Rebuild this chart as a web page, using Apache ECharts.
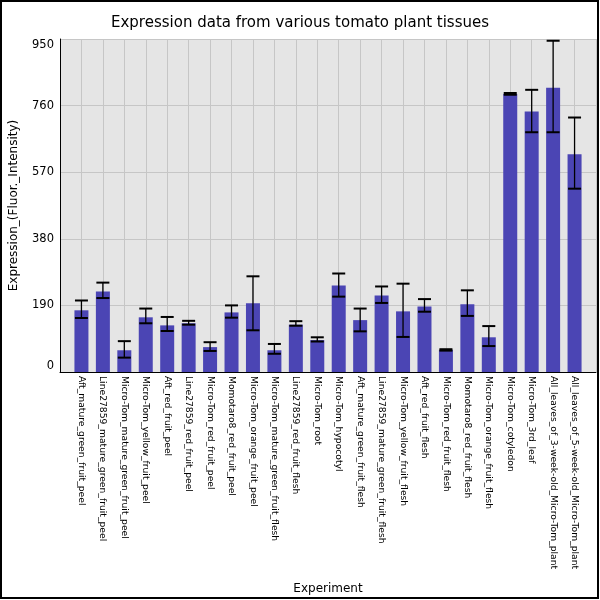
<!DOCTYPE html>
<html>
<head>
<meta charset="utf-8">
<script src="https://cdn.jsdelivr.net/npm/echarts@6/dist/echarts.min.js"></script>
<style>
html,body{margin:0;padding:0;background:#fff;}
#main{width:600px;height:600px;}
</style>
</head>
<body>
<div id="main"></div>
<script>
// tissue names, in drawing order
var tissues = [
  'Aft_mature_green_fruit_peel',
  'Line27859_mature_green_fruit_peel',
  'Micro-Tom_mature_green_fruit_peel',
  'Micro-Tom_yellow_fruit_peel',
  'Aft_red_fruit_peel',
  'Line27859_red_fruit_peel',
  'Micro-Tom_red_fruit_peel',
  'Momotaro8_red_fruit_peel',
  'Micro-Tom_orange_fruit_peel',
  'Micro-Tom_mature_green_fruit_flesh',
  'Line27859_red_fruit_flesh',
  'Micro-Tom_root',
  'Micro-Tom_hypocotyl',
  'Aft_mature_green_fruit_flesh',
  'Line27859_mature_green_fruit_flesh',
  'Micro-Tom_yellow_fruit_flesh',
  'Aft_red_fruit_flesh',
  'Micro-Tom_red_fruit_flesh',
  'Momotaro8_red_fruit_flesh',
  'Micro-Tom_orange_fruit_flesh',
  'Micro-Tom_cotyledon',
  'Micro-Tom_3rd_leaf',
  'All_leaves_of_3-week-old_Micro-Tom_plant',
  'All_leaves_of_5-week-old_Micro-Tom_plant'
];
// mean expression
var expression = [176, 230, 62, 156, 133, 139, 71, 170, 196, 62, 135, 91,
                  247, 148, 218, 173, 187, 63, 193, 99, 793, 743, 811, 621];
// error bar ends
var errLow  = [154, 211, 41, 139, 117, 135, 60, 155, 119, 52, 132, 87,
               215, 116, 197, 100, 172, 61, 160, 74, 791, 684, 684, 523];
var errHigh = [204, 255, 88, 181, 157, 146, 85, 190, 273, 80, 145, 99,
               281, 181, 244, 252, 208, 65, 233, 131, 796, 805, 945, 726];
var yTicks = [0, 190, 380, 570, 760, 950];

// one empty slot on each side, like the original plot
var cats = [''].concat(tissues).concat(['']);
var barData = ['-'].concat(expression).concat(['-']);
var errData = [];
for (var i = 0; i < tissues.length; i++) {
  errData.push([i + 1, errLow[i], errHigh[i]]);
}

var myChart = echarts.init(document.getElementById('main'));

myChart.setOption({
  backgroundColor: '#fff',
  animation: false,
  textStyle: { fontFamily: 'DejaVu Sans' },
  title: {
    text: 'Expression data from various tomato plant tissues',
    left: 'center',
    top: 11,
    textStyle: { fontSize: 15, fontWeight: 'normal', color: '#000', fontFamily: 'DejaVu Sans' }
  },
  graphic: [{
    type: 'rect',
    shape: { x: 1, y: 1, width: 597, height: 597 },
    style: { fill: 'none', stroke: '#000', lineWidth: 2 },
    z: 100
  }],
  grid: {
    left: 58, right: 4, top: 39, bottom: 226,
    show: true,
    backgroundColor: '#e5e5e5',
    borderWidth: 0
  },
  xAxis: {
    type: 'category',
    data: cats,
    boundaryGap: false,
    name: 'Experiment',
    nameLocation: 'middle',
    nameGap: 211,
    nameTextStyle: { fontSize: 12, color: '#000' },
    axisLine: { lineStyle: { color: '#000', width: 1 } },
    axisTick: { show: false },
    axisLabel: {
      interval: 0,
      rotate: -90,
      margin: 4,
      fontSize: 9.2,
      color: '#000'
    },
    splitLine: { show: true, interval: 0, lineStyle: { color: '#c6c6c6', width: 1 } }
  },
  yAxis: {
    type: 'value',
    min: 0,
    max: 950,
    interval: 190,
    name: 'Expression_(Fluor._Intensity)',
    nameLocation: 'middle',
    nameGap: 40,
    nameTextStyle: { fontSize: 12, color: '#000' },
    axisLine: { show: true, lineStyle: { color: '#000', width: 1 } },
    axisTick: { show: false },
    axisLabel: {
      fontSize: 11.5,
      color: '#000',
      margin: 6,
      verticalAlignMinLabel: 'bottom',
      verticalAlignMaxLabel: 'top',
      formatter: function (v) { return yTicks.indexOf(v) >= 0 ? String(v) : ''; }
    },
    splitLine: { show: true, lineStyle: { color: '#c6c6c6', width: 1 } }
  },
  series: [
    {
      type: 'bar',
      data: barData,
      barWidth: 14,
      itemStyle: { color: '#4b45b4' }
    },
    {
      type: 'custom',
      data: errData,
      z: 10,
      renderItem: function (params, api) {
        var x = api.value(0);
        var lo = api.coord([x, api.value(1)]);
        var hi = api.coord([x, api.value(2)]);
        var half = 6.5;
        return {
          type: 'group',
          children: [
            { type: 'line', shape: { x1: lo[0], y1: lo[1], x2: hi[0], y2: hi[1] },
              style: { stroke: '#000', lineWidth: 1.3 } },
            { type: 'line', shape: { x1: lo[0] - half, y1: lo[1], x2: lo[0] + half, y2: lo[1] },
              style: { stroke: '#000', lineWidth: 2 } },
            { type: 'line', shape: { x1: hi[0] - half, y1: hi[1], x2: hi[0] + half, y2: hi[1] },
              style: { stroke: '#000', lineWidth: 2 } }
          ]
        };
      }
    }
  ]
});
</script>
</body>
</html>
